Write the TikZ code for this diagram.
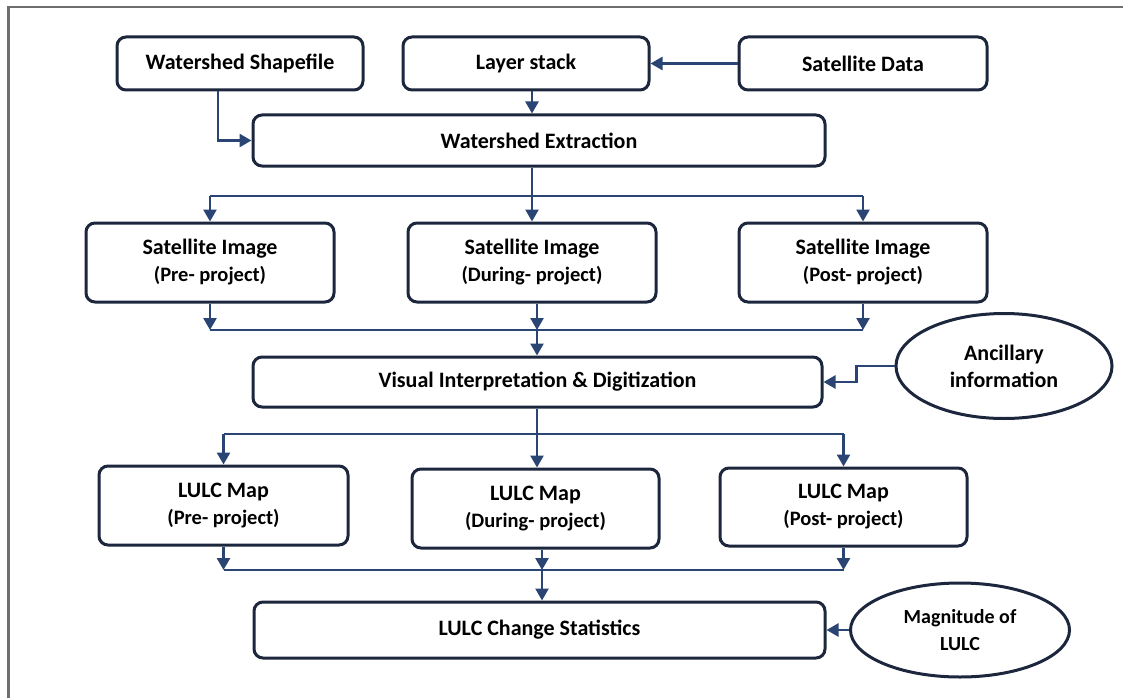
\documentclass[tikz,border=0pt]{standalone}
\usepackage{fontspec}
\setmainfont{Carlito}
\usetikzlibrary{shapes.geometric,arrows.meta}

\definecolor{boxline}{RGB}{28,38,60}
\definecolor{wireblue}{RGB}{42,68,116}
\definecolor{framegray}{RGB}{110,110,110}

\newcommand{\lowline}[1]{{\fontsize{20.5}{27}\selectfont #1}}

\tikzset{
	flowbox/.style={draw=boxline, line width=3pt, rounded corners=9pt, fill=white, inner sep=0pt, align=center, font=\bfseries\fontsize{22}{27}\selectfont},
	infobox/.style={ellipse, draw=boxline, line width=3pt, fill=white, inner sep=0pt, align=center, font=\bfseries\fontsize{22}{27}\selectfont},
	wire/.style={draw=wireblue, line width=2.6pt},
	flow/.style={wire, -{Triangle[length=12pt, width=13pt]}},
}

\begin{document}
\begin{tikzpicture}[x=1pt, y=-1pt]
		\useasboundingbox (0,0) rectangle (1123,698);
		\draw[framegray, line width=2.2pt] (8.5,698) -- (8.5,7) -- (1123,7);
		% Nodes:
		\node[flowbox, minimum width=246, minimum height=53] (shp) at (240,63.5) {Watershed Shapefile};
		\node[flowbox, minimum width=246, minimum height=53] (stack) at (526,63.5) {Layer stack};
		\node[flowbox, minimum width=248, minimum height=53] (sat) at (863,63.5) {Satellite Data};
		\node[flowbox, minimum width=572, minimum height=51] (ext) at (539,140.5) {Watershed Extraction};
		\node[flowbox, minimum width=248, minimum height=79] (img1) at (210,262.5) {Satellite Image\\\lowline{(Pre- project)}};
		\node[flowbox, minimum width=248, minimum height=79] (img2) at (532,262.5) {Satellite Image\\\lowline{(During- project)}};
		\node[flowbox, minimum width=248, minimum height=79] (img3) at (863,262.5) {Satellite Image\\\lowline{(Post- project)}};
		\node[flowbox, minimum width=569, minimum height=50] (vis) at (537.5,382) {Visual Interpretation \& Digitization};
		\node[infobox, minimum width=216, minimum height=105] (anc) at (1004,366) {Ancillary\\information};
		\node[flowbox, minimum width=249, minimum height=79] (map1) at (223.5,505.5) {LULC Map\\\lowline{(Pre- project)}};
		\node[flowbox, minimum width=247, minimum height=79] (map2) at (535.5,508.5) {LULC Map\\\lowline{(During- project)}};
		\node[flowbox, minimum width=247, minimum height=78] (map3) at (843.5,507) {LULC Map\\\lowline{(Post- project)}};
		\node[flowbox, minimum width=571, minimum height=56] (stat) at (539.5,630) {LULC Change Statistics};
		\node[infobox, minimum width=219, minimum height=94, font=\bfseries\fontsize{20}{27}\selectfont] (mag) at (960,630) {Magnitude of\\LULC};
		% Bus points:
		\coordinate (b1) at (532,196);
		\coordinate (b2) at (537,330);
		\coordinate (b3) at (537,434);
		\coordinate (b4) at (542,570);
		% Wires and arrows:
		\draw[flow] (sat.west) -- (stack.east);
		\draw[flow] (stack.south -| b1) -- (ext.north -| b1);
		\draw[flow] ([xshift=-22pt]shp.south) |- (ext.west);
		\draw[wire] (ext.south -| b1) -- (b1);
		\draw[wire] (b1 -| img1) -- (b1 -| img3);
		\draw[flow] (b1 -| img1) -- (img1.north);
		\draw[flow] (b1) -- (img2.north -| b1);
		\draw[flow] (b1 -| img3) -- (img3.north);
		\draw[flow] (img1.south) -- (img1.south |- b2);
		\draw[flow] (img2.south -| b2) -- (b2);
		\draw[flow] (img3.south) -- (img3.south |- b2);
		\draw[wire] (img1.south |- b2) -- (img3.south |- b2);
		\draw[flow] (b2) -- (vis.north -| b2);
		\draw[flow] (anc.west) -- ++(-38,0) |- (vis.east);
		\draw[wire] (vis.south -| b3) -- (b3);
		\draw[wire] (b3 -| map1) -- (b3 -| map3);
		\draw[flow] (b3 -| map1) -- (map1.north);
		\draw[flow] (b3) -- (map2.north -| b3);
		\draw[flow] (b3 -| map3) -- (map3.north);
		\draw[flow] (map1.south) -- (map1.south |- b4);
		\draw[flow] (map2.south -| b4) -- (b4);
		\draw[flow] (map3.south) -- (map3.south |- b4);
		\draw[wire] (map1.south |- b4) -- (map3.south |- b4);
		\draw[flow] (b4) -- (stat.north -| b4);
		\draw[flow] (mag.west) -- (stat.east);
	\end{tikzpicture}
\end{document}
